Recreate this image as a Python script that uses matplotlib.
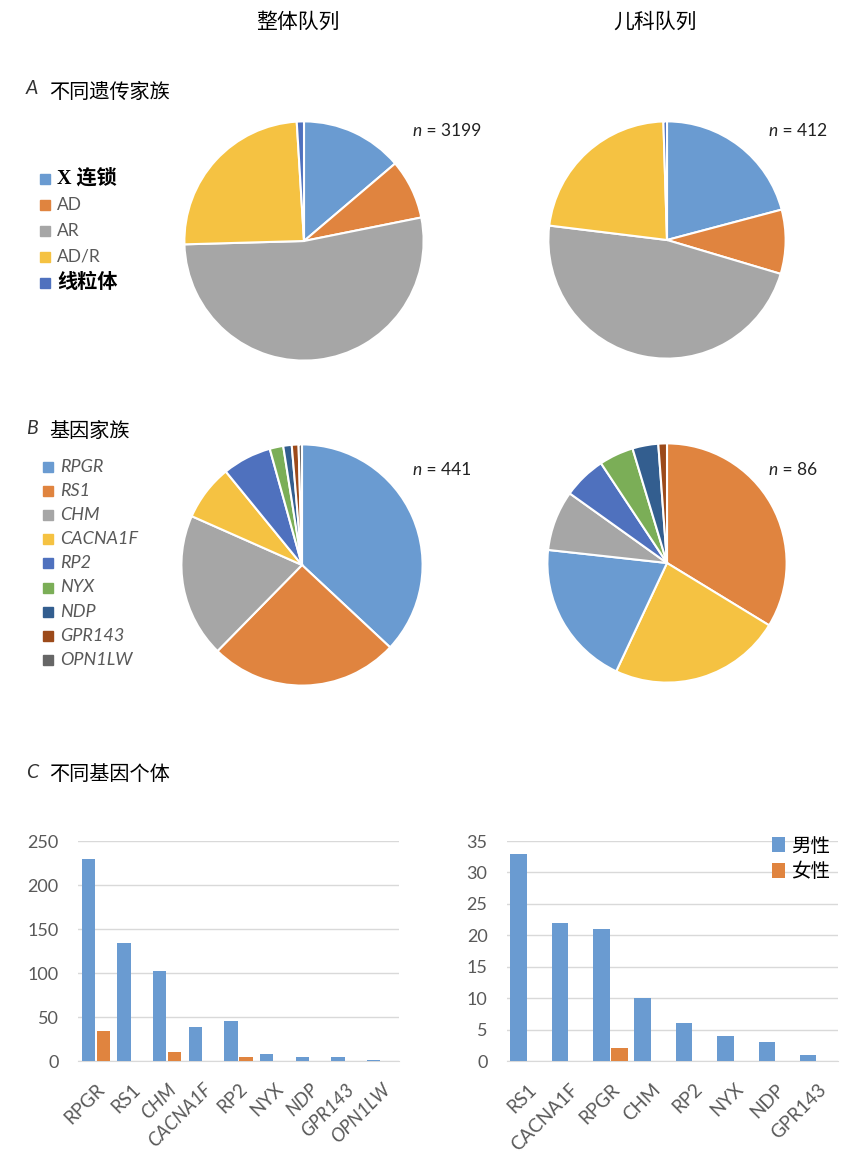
import matplotlib
matplotlib.use("Agg")
import matplotlib.pyplot as plt
from matplotlib.patches import Rectangle

plt.rcParams['font.family'] = ['Lato', 'Noto Sans CJK SC', 'DejaVu Sans']

# A - inheritance of families
inherit_labels = ["X 连锁", "AD", "AR", "AD/R", "线粒体"]
inherit_all = [441, 258, 1686, 783, 31]      # whole cohort
inherit_ped = [86, 36, 195, 93, 2]           # paediatric cohort

# B - gene of families
gene_labels = ["RPGR", "RS1", "CHM", "CACNA1F", "RP2", "NYX", "NDP", "GPR143", "OPN1LW"]
gene_all = [163, 112, 85, 33, 29, 8, 5, 4, 2]
ped_gene_labels = ["RS1", "CACNA1F", "RPGR", "CHM", "RP2", "NYX", "NDP", "GPR143"]
gene_ped = [29, 20, 17, 7, 5, 4, 3, 1]

# C - individuals per gene
male_all = [229, 134, 102, 39, 46, 8, 5, 5, 1]
female_all = [34, 0, 10, 0, 4, 0, 0, 0, 0]
male_ped = [33, 22, 21, 10, 6, 4, 3, 1]
female_ped = [0, 0, 2, 0, 0, 0, 0, 0]
sex_labels = ["男性", "女性"]

inherit_colors = ["#6A9BD1", "#E0843F", "#A6A6A6", "#F5C242", "#4F71BE"]
gene_colors = {"RPGR": "#6A9BD1", "RS1": "#E0843F", "CHM": "#A6A6A6",
               "CACNA1F": "#F5C242", "RP2": "#4F71BE", "NYX": "#7BAE57",
               "NDP": "#335E8F", "GPR143": "#9C4A1A", "OPN1LW": "#666666"}
italic_all = {"CHM", "CACNA1F", "NDP", "GPR143", "OPN1LW"}
GRAY = "#595959"

W, H = 854, 1152
fig = plt.figure(figsize=(W / 100, H / 100), dpi=100)


def fx(x):
    return x / W


def fy(y):
    return 1 - y / H


def pie_at(cx, cy, r, values, colors):
    ax = fig.add_axes([fx(cx - r - 2), fy(cy + r + 2), (2 * r + 4) / W, (2 * r + 4) / H])
    ax.pie(values, colors=colors, startangle=90, counterclock=False, radius=1,
           wedgeprops=dict(edgecolor="white", linewidth=1.5))
    ax.set_xlim(-1.02, 1.02)
    ax.set_ylim(-1.02, 1.02)
    return ax


def n_label(x, y, n):
    fig.text(fx(x), fy(y), "n", style="italic", fontsize=12.5, color="#222222", va="center")
    fig.text(fx(x + 10), fy(y), f" = {n}", fontsize=12.5, color="#222222", va="center")


# column headers
fig.text(fx(298), fy(22), "整体队列", fontsize=15, ha="center", va="center", family="Noto Sans CJK SC")
fig.text(fx(655), fy(22), "儿科队列", fontsize=15, ha="center", va="center", family="Noto Sans CJK SC")

# section titles
for letter, title, y in [("A", "不同遗传家族", 92), ("B", "基因家族", 431), ("C", "不同基因个体", 775)]:
    fig.text(fx(26), fy(y - 3), letter, style="italic", fontsize=14, color="#333333", va="center")
    fig.text(fx(49), fy(y), title, fontsize=14.5, va="center", family="Noto Sans CJK SC")

# A pies
pie_at(304, 241, 120, inherit_all, inherit_colors)
pie_at(667, 240, 119, inherit_ped, inherit_colors)
n_label(412, 131, sum(inherit_all))
n_label(768, 131, sum(inherit_ped))

for i, lab in enumerate(inherit_labels):
    y = 179 + i * 26
    fig.patches.append(Rectangle((fx(40), fy(y + 5)), 10 / W, 10 / H,
                                 transform=fig.transFigure, color=inherit_colors[i]))
    if lab.isascii():
        fig.text(fx(57), fy(y), lab, fontsize=12.5, color=GRAY, va="center")
    else:
        fig.text(fx(57), fy(y), lab, fontsize=14.5, color="black", va="center",
                 family=["Liberation Serif", "Noto Sans CJK SC"], weight="bold")

# B pies
pie_at(302, 565, 121, gene_all, [gene_colors[g] for g in gene_labels])
pie_at(667, 563, 120, gene_ped, [gene_colors[g] for g in ped_gene_labels])
n_label(412, 470, sum(gene_all))
n_label(768, 470, sum(gene_ped))

for i, lab in enumerate(gene_labels):
    y = 467 + i * 24.1
    fig.patches.append(Rectangle((fx(43), fy(y + 5)), 10 / W, 10 / H,
                                 transform=fig.transFigure, color=gene_colors[lab]))
    fig.text(fx(60), fy(y), lab, fontsize=13, style="italic", color=GRAY, va="center")


# C bars
def bars(ax, labels, male, female, ymax, step, width, off):
    x = range(len(labels))
    ax.bar([i - off for i in x], male, width=width, color="#6A9BD1", label=sex_labels[0], zorder=3)
    ax.bar([i + off for i in x], female, width=width, color="#E0843F", label=sex_labels[1], zorder=3)
    ax.set_xlim(-0.5, len(labels) - 0.5)
    ax.set_ylim(0, ymax)
    ax.set_yticks(range(0, ymax + 1, step))
    ax.yaxis.grid(True, color="#D9D9D9", linewidth=1, zorder=0)
    for s in ["left", "right", "top"]:
        ax.spines[s].set_visible(False)
    ax.spines["bottom"].set_color("#D9D9D9")
    ax.tick_params(axis="y", length=0, pad=14, labelsize=13, labelcolor=GRAY)
    ax.tick_params(axis="x", length=0, pad=14, labelsize=13.5, labelcolor=GRAY)
    ax.set_xticks(list(x))
    ax.set_xticklabels(labels, rotation=45, ha="right", rotation_mode="anchor")


ax1 = fig.add_axes([fx(78), fy(1061), 321 / W, 220 / H])
bars(ax1, gene_labels, male_all, female_all, 250, 50, 0.38, 0.21)
for t in ax1.get_xticklabels():
    if t.get_text() in italic_all:
        t.set_style("italic")

ax2 = fig.add_axes([fx(507), fy(1061), 331 / W, 220 / H])
bars(ax2, ped_gene_labels, male_ped, female_ped, 35, 5, 0.4, 0.22)
ax2.legend(loc="upper right", bbox_to_anchor=(1.0, 1.06), frameon=False,
           prop={"family": "Noto Sans CJK SC", "size": 14},
           handlelength=0.7, handleheight=0.8, handletextpad=0.3, labelspacing=0.25,
           borderaxespad=0)

fig.savefig("out.png", dpi=100, facecolor="white")
